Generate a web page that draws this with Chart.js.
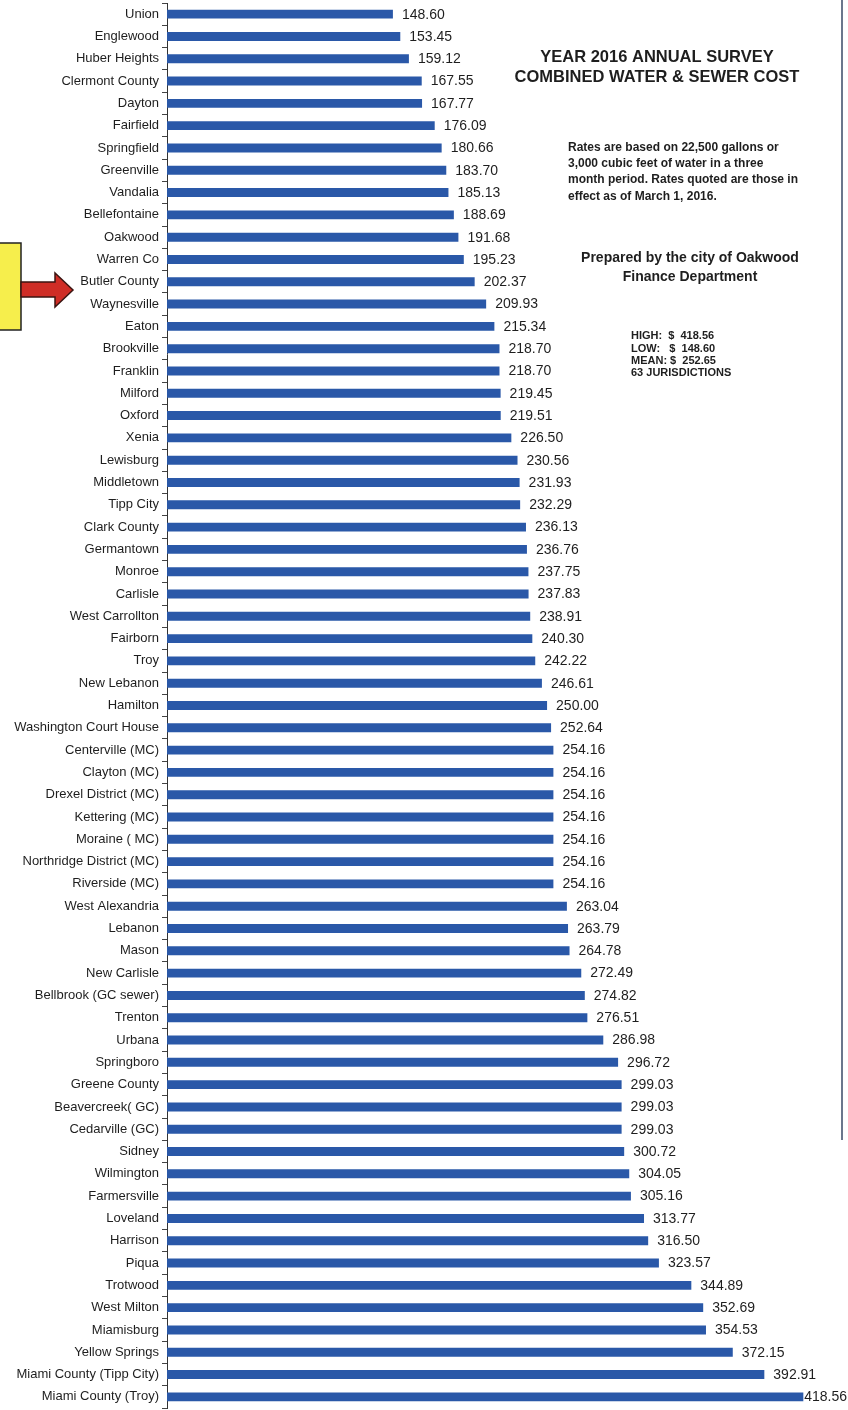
<!DOCTYPE html>
<html>
<head>
<meta charset="utf-8">
<script src="https://cdn.jsdelivr.net/npm/chart.js@4.4.1/dist/chart.umd.min.js"></script>
<style>
html,body{margin:0;padding:0;background:#fff;}
#wrap{position:relative;width:848px;height:1410px;}
</style>
</head>
<body>
<div id="wrap"><canvas id="c"></canvas></div>
<script>
const categories = ["Union","Englewood","Huber Heights","Clermont County","Dayton","Fairfield","Springfield","Greenville","Vandalia","Bellefontaine","Oakwood","Warren Co","Butler County","Waynesville","Eaton","Brookville","Franklin","Milford","Oxford","Xenia","Lewisburg","Middletown","Tipp City","Clark County","Germantown","Monroe","Carlisle","West Carrollton","Fairborn","Troy","New Lebanon","Hamilton","Washington Court House","Centerville (MC)","Clayton (MC)","Drexel District (MC)","Kettering (MC)","Moraine ( MC)","Northridge District (MC)","Riverside (MC)","West Alexandria","Lebanon","Mason","New Carlisle","Bellbrook (GC sewer)","Trenton","Urbana","Springboro","Greene County","Beavercreek( GC)","Cedarville (GC)","Sidney","Wilmington","Farmersville","Loveland","Harrison","Piqua","Trotwood","West Milton","Miamisburg","Yellow Springs","Miami County (Tipp City)","Miami County (Troy)"];
const costs = [148.60,153.45,159.12,167.55,167.77,176.09,180.66,183.70,185.13,188.69,191.68,195.23,202.37,209.93,215.34,218.70,218.70,219.45,219.51,226.50,230.56,231.93,232.29,236.13,236.76,237.75,237.83,238.91,240.30,242.22,246.61,250.00,252.64,254.16,254.16,254.16,254.16,254.16,254.16,254.16,263.04,263.79,264.78,272.49,274.82,276.51,286.98,296.72,299.03,299.03,299.03,300.72,304.05,305.16,313.77,316.50,323.57,344.89,352.69,354.53,372.15,392.91,418.56];
const titleLines = ["YEAR 2016 ANNUAL SURVEY","COMBINED WATER & SEWER COST"];
const noteLines = ["Rates are based on 22,500 gallons or","3,000 cubic feet of water in a three","month period. Rates quoted are those in","effect as of March 1, 2016."];
const preparedLines = ["Prepared by the city of Oakwood","Finance Department"];
const statLines = ["HIGH:  $  418.56","LOW:   $  148.60","MEAN: $  252.65","63 JURISDICTIONS"];

const FONT = "'Liberation Sans', Arial, Helvetica, sans-serif";

const overlay = {
  id: 'overlay',
  afterDatasetsDraw(chart) {
    const ctx = chart.ctx;
    const meta = chart.getDatasetMeta(0);
    ctx.save();
    ctx.font = "14px " + FONT;
    ctx.fillStyle = "#1e1e1e";
    ctx.textBaseline = "middle";
    ctx.textAlign = "left";
    meta.data.forEach((bar, i) => {
      const txt = costs[i].toFixed(2);
      const w = ctx.measureText(txt).width;
      let x = bar.x + 9;
      if (x + w > chart.width - 1) x = Math.max(bar.x, chart.width - 1 - w);
      ctx.fillText(txt, x, bar.y + 0.5);
    });
    ctx.restore();
  },
  afterDraw(chart) {
    const ctx = chart.ctx;
    ctx.save();
    ctx.fillStyle = "#1e1e1e";
    ctx.textBaseline = "middle";
    ctx.textAlign = "center";
    ctx.font = "bold 16.5px " + FONT;
    ctx.fillText(titleLines[0], 657, 57);
    ctx.fillText(titleLines[1], 657, 77);
    ctx.textAlign = "left";
    ctx.font = "bold 12px " + FONT;
    const ny = [148, 164, 180, 197];
    noteLines.forEach((t, i) => ctx.fillText(t, 568, ny[i]));
    ctx.textAlign = "center";
    ctx.font = "bold 14px " + FONT;
    ctx.fillText(preparedLines[0], 690, 258);
    ctx.fillText(preparedLines[1], 690, 277);
    ctx.textAlign = "left";
    ctx.font = "bold 11px " + FONT;
    const sy = [336, 349, 361, 373];
    statLines.forEach((t, i) => ctx.fillText(t, 631, sy[i]));
    ctx.strokeStyle = "#3a4a66";
    ctx.lineWidth = 1.5;
    ctx.beginPath();
    ctx.moveTo(842, 0);
    ctx.lineTo(842, 1140);
    ctx.stroke();
    ctx.fillStyle = "#f6ee4c";
    ctx.strokeStyle = "#222";
    ctx.lineWidth = 1.5;
    ctx.fillRect(-2, 243, 23, 87);
    ctx.strokeRect(-2, 243, 23, 87);
    ctx.fillStyle = "#cf2d26";
    ctx.strokeStyle = "#3b1512";
    ctx.lineWidth = 1.5;
    ctx.beginPath();
    ctx.moveTo(21, 282);
    ctx.lineTo(55, 282);
    ctx.lineTo(55, 273);
    ctx.lineTo(73, 290);
    ctx.lineTo(55, 307);
    ctx.lineTo(55, 297);
    ctx.lineTo(21, 297);
    ctx.closePath();
    ctx.fill();
    ctx.stroke();
    ctx.restore();
  }
};

new Chart(document.getElementById('c'), {
  type: 'bar',
  data: {
    labels: categories,
    datasets: [{
      data: costs,
      backgroundColor: '#2a58a8',
      borderWidth: 0,
      barPercentage: 0.4,
      categoryPercentage: 1.0
    }]
  },
  options: {
    indexAxis: 'y',
    responsive: true,
    maintainAspectRatio: false,
    animation: false,
    devicePixelRatio: 1,
    layout: { padding: { top: 3, bottom: 2, right: 6, left: 0 } },
    plugins: { legend: { display: false }, tooltip: { enabled: false }, title: { display: false } },
    scales: {
      x: {
        display: false,
        min: 0,
        max: 444
      },
      y: {
        afterFit(scale) { scale.width = 167; scale.paddingTop = 0; scale.paddingBottom = 0; },
        border: { display: true, color: '#333', width: 1 },
        grid: { display: true, drawOnChartArea: false, drawTicks: true, tickLength: 5, color: '#444', offset: true },
        ticks: { color: '#1e1e1e', padding: 3, autoSkip: false, font: { family: FONT, size: 13 } }
      }
    }
  },
  plugins: [overlay]
});
</script>
</body>
</html>
